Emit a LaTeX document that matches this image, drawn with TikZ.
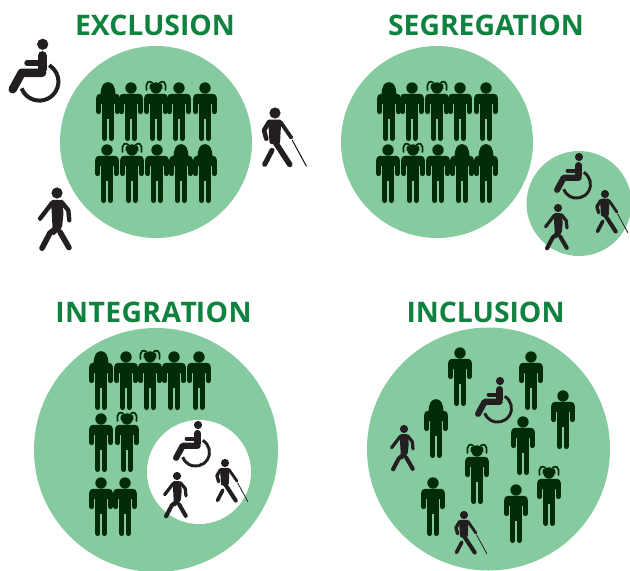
\documentclass[tikz,border=0pt]{standalone}
\usepackage{fontspec}
\setmainfont{Open Sans}
\definecolor{zone}{HTML}{85CB9F}
\definecolor{titlegreen}{HTML}{10823F}
\definecolor{crowd}{HTML}{022C08}
\definecolor{figblack}{HTML}{231F20}
\tikzset{
  zonecircle/.style={fill=zone,draw=none},
  holecircle/.style={fill=white,draw=none},
  heading/.style={font=\bfseries\fontsize{28.3}{30}\selectfont,text=titlegreen,inner sep=0pt,anchor=center},
  pics/manbody/.style={code={
    \begin{scope}[yscale=-1]
    \fill[crowd] (0,0) circle[radius=5.7pt];
    \fill[crowd,rounded corners=3.5pt] (-11.7,16) -- (-11.7,5.9) -- (11.7,5.9) -- (11.7,16) -- cycle;
    \fill[crowd] (-6.2,10) rectangle (6.2,31);
    \draw[crowd,line width=5pt,line cap=round] (-9.2,11) -- (-9.2,23.6);
    \draw[crowd,line width=5pt,line cap=round] (9.2,11) -- (9.2,23.6);
    \draw[crowd,line width=5.3pt,line cap=round] (-3.2,28) -- (-3.2,50.4);
    \draw[crowd,line width=5.3pt,line cap=round] (3.2,28) -- (3.2,50.4);
    \end{scope}
  }},
  pics/womanbody/.style={code={
    \pic {manbody};
    \begin{scope}[yscale=-1]
    \fill[crowd] (-7.4,7) .. controls (-7.4,-2) and (-4.5,-5.6) .. (0,-5.6) .. controls (4.5,-5.6) and (7.4,-2) .. (7.4,7) -- cycle;
    \end{scope}
  }},
  pics/girlbody/.style={code={
    \pic {manbody};
    \begin{scope}[yscale=-1]
    \draw[crowd,line width=1.7pt,line cap=round] (-3.5,-5) .. controls (-6,-7.8) and (-10.8,-7) .. (-9.4,2);
    \draw[crowd,line width=1.7pt,line cap=round] (3.5,-5) .. controls (6,-7.8) and (10.8,-7) .. (9.4,2);
    \fill[crowd] (-4,-4.5) .. controls (-6.5,-4.5) and (-7,-1) .. (-6.5,1) -- (-3,0) -- cycle;
    \fill[crowd] (4,-4.5) .. controls (6.5,-4.5) and (7,-1) .. (6.5,1) -- (3,0) -- cycle;
    \end{scope}
  }},
  pics/wheelfig/.style={code={
    \begin{scope}[yscale=-1,scale=#1]
    \fill[figblack] (0,0) circle[radius=5.6pt];
    \draw[figblack,line width=#1*9.4pt,line cap=round] (-0.5,11.5) -- (-0.5,25);
    \draw[figblack,line width=#1*5.8pt,line cap=round] (-15.5,19) -- (-2,19);
    \draw[figblack,line width=#1*8.4pt,line cap=round,line join=round] (-0.5,28.5) -- (-21,28.5) -- (-30,45);
    \draw[figblack,line width=#1*4pt] (-3.3,37.3) ++(-59:19pt) arc[start angle=-59,end angle=159,radius=19pt];
    \end{scope}
  }},
  pics/walkfig/.style={code={
    \begin{scope}[yscale=-1,scale=#1]
    \fill[figblack] (0,0) circle[radius=5.6pt];
    \fill[figblack,rounded corners=2pt] (-6,7) -- (5,6.8) -- (6.5,20) -- (5,35) -- (-4,43) -- (-5,25) -- cycle;
    \draw[figblack,line width=#1*4.4pt,line cap=round] (-5,10) -- (-17,25.7);
    \draw[figblack,line width=#1*4.4pt,line cap=round,line join=round] (4.5,9) -- (11.3,17.3) -- (12.3,27.3);
    \draw[figblack,line width=#1*5.6pt,line cap=round,line join=round] (1,34) -- (-7,40) -- (-15,55.2);
    \draw[figblack,line width=#1*5.6pt,line cap=round] (3,39) -- (12,54.6);
    \end{scope}
  }},
  pics/canefig/.style={code={
    \begin{scope}[yscale=-1,scale=#1]
    \fill[figblack] (0,0) circle[radius=5.6pt];
    \fill[figblack,rounded corners=2pt] (-7,6.5) -- (6.5,6.5) -- (5.5,20) -- (5,31) -- (-5.5,31) -- (-6,20) -- cycle;
    \draw[figblack,line width=#1*4.6pt,line cap=round,line join=round] (-6,9) -- (-11,17.3) -- (-8.7,25.7);
    \draw[figblack,line width=#1*3.8pt,line cap=round] (5.5,9) -- (16.3,24.7);
    \draw[figblack,line width=#1*5.6pt,line cap=round] (-0.5,28) -- (14.7,51.4);
    \draw[figblack,line width=#1*5pt,line cap=round] (-3,37.3) -- (-10.3,51.3);
    \draw[figblack,line width=#1*1.1pt,line cap=round] (17.3,27.3) -- (31.3,53);
    \end{scope}
  }},
}
\begin{document}
\begin{tikzpicture}[x=1pt,y=1pt,yscale=-1]
\useasboundingbox (0,0) rectangle (630,571);
% circles
\fill[zonecircle] (156,142) circle[radius=96pt];
\fill[zonecircle] (437,142) circle[radius=96pt];
\fill[zonecircle] (579,203.5) circle[radius=52.5pt];
\fill[zonecircle] (156,450) circle[radius=122pt];
\fill[holecircle] (199,472) circle[radius=52pt];
\fill[zonecircle] (488.5,449) circle[radius=121.5pt];
% titles
\node[heading] (t1) at (155,25) {EXCLUSION};
\node[heading] (t2) at (486,25) {SEGREGATION};
\node[heading] (t3) at (153.5,312) {I\kern.4pt N\kern.4pt T\kern.4pt E\kern.4pt G\kern.4pt R\kern.4pt A\kern-.6pt T\kern-1pt I\kern.4pt O\kern.4pt N};
\node[heading] (t4) at (485.5,312) {INCLUSION};
% exclusion
\pic at (108,88) {womanbody};
\pic at (131,88) {manbody};
\pic at (156,88) {girlbody};
\pic at (179,88) {manbody};
\pic at (205,88) {manbody};
\pic at (107,150) {manbody};
\pic at (132,150) {girlbody};
\pic at (157,150) {manbody};
\pic at (181,150) {womanbody};
\pic at (205,150) {womanbody};
\pic at (42.7,44.3) {wheelfig=1};
\pic at (275,113) {canefig=1};
\pic at (57,193) {walkfig=1};
% segregation
\pic at (389,88) {womanbody};
\pic at (412,88) {manbody};
\pic at (437,88) {girlbody};
\pic at (460,88) {manbody};
\pic at (486,88) {manbody};
\pic at (388,150) {manbody};
\pic at (413,150) {girlbody};
\pic at (438,150) {manbody};
\pic at (462,150) {womanbody};
\pic at (486,150) {womanbody};
\pic at (579,157) {wheelfig=0.73};
\pic at (558,208) {walkfig=0.73};
\pic at (605,194) {canefig=0.73};
% integration
\pic at (101,357) {womanbody};
\pic at (126,357) {manbody};
\pic at (150,357) {girlbody};
\pic at (174,357) {manbody};
\pic at (199,357) {manbody};
\pic at (101,419) {manbody};
\pic at (127,419) {girlbody};
\pic at (101,483) {manbody};
\pic at (125,483) {manbody};
\pic at (198,425) {wheelfig=0.73};
\pic at (177,476) {walkfig=0.73};
\pic at (225,463) {canefig=0.73};
% inclusion
\pic at (460,353) {manbody};
\pic at (531,357) {manbody};
\pic at (563,396) {manbody};
\pic at (523,422) {manbody};
\pic at (436,405) {womanbody};
\pic at (477,451) {girlbody};
\pic at (433,483) {manbody};
\pic at (516,490) {manbody};
\pic at (549,473) {girlbody};
\pic at (500,381) {wheelfig=0.73};
\pic at (404,429) {walkfig=0.73};
\pic at (464,515) {canefig=0.73};
\end{tikzpicture}
\end{document}
